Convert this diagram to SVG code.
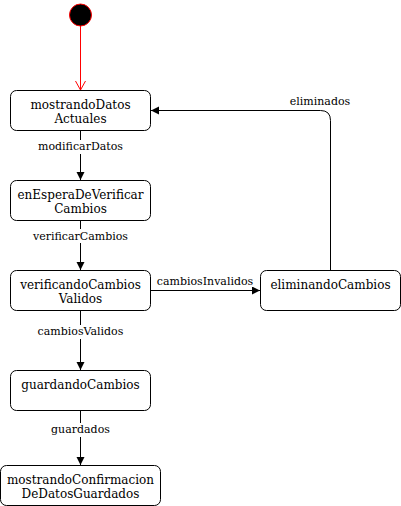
<svg xmlns="http://www.w3.org/2000/svg" width="401" height="506" viewBox="0 0 401 506">
<style>
.n{fill:#fff;stroke:#000;stroke-width:1}
.t{font-family:"DejaVu Serif",serif;font-size:12px;text-anchor:middle;fill:#000}
.l{font-family:"DejaVu Serif",serif;font-size:11px;text-anchor:middle;fill:#000}
.e{fill:none;stroke:#000;stroke-width:1}
.bg{fill:#fff}
</style>
<defs>
<marker id="a" markerWidth="10" markerHeight="10" refX="8" refY="4" orient="auto" markerUnits="userSpaceOnUse"><path d="M0,0 L8,4 L0,8 Z" fill="#000"/></marker>
<marker id="o" markerWidth="12" markerHeight="12" refX="9" refY="5" orient="auto" markerUnits="userSpaceOnUse"><path d="M0,0 L9,5 L0,10" fill="none" stroke="#f00"/></marker>
</defs>
<g id="connectors">
<line x1="80.5" y1="26" x2="80.5" y2="90" stroke="#f00" marker-end="url(#o)"/>
<line class="e" x1="80.5" y1="130.5" x2="80.5" y2="180" marker-end="url(#a)"/>
<rect class="bg" x="36" y="140" width="89" height="14"/>
<text class="l" x="80.5" y="150">modificarDatos</text>
<line class="e" x1="80.5" y1="220.5" x2="80.5" y2="270" marker-end="url(#a)"/>
<rect class="bg" x="31" y="229" width="99" height="14"/>
<text class="l" x="80.5" y="240">verificarCambios</text>
<line class="e" x1="80.5" y1="310.5" x2="80.5" y2="370" marker-end="url(#a)"/>
<rect class="bg" x="35" y="325" width="91" height="14"/>
<text class="l" x="80.5" y="335">cambiosValidos</text>
<line class="e" x1="80.5" y1="410.5" x2="80.5" y2="465" marker-end="url(#a)"/>
<rect class="bg" x="49" y="423" width="63" height="14"/>
<text class="l" x="80.5" y="433">guardados</text>
<line class="e" x1="150.5" y1="290.5" x2="260" y2="290.5" marker-end="url(#a)"/>
<text class="l" x="205" y="285">cambiosInvalidos</text>
<path class="e" d="M330.5,270 V120.5 Q330.5,110.5 320.5,110.5 H151" marker-end="url(#a)"/>
<text class="l" x="320" y="105">eliminados</text>
</g>
<g id="start"><circle cx="80.5" cy="15" r="11" fill="#000" stroke="#f00"/></g>
<g id="mostrandoDatosActuales"><rect class="n" x="10.5" y="90.5" width="140" height="40" rx="6"/><text class="t" x="80.5" y="109">mostrandoDatos</text><text class="t" x="80.5" y="123">Actuales</text></g>
<g id="enEsperaDeVerificarCambios"><rect class="n" x="10.5" y="180.5" width="140" height="40" rx="6"/><text class="t" x="80.5" y="199">enEsperaDeVerificar</text><text class="t" x="80.5" y="213">Cambios</text></g>
<g id="verificandoCambiosValidos"><rect class="n" x="10.5" y="270.5" width="140" height="40" rx="6"/><text class="t" x="80.5" y="289">verificandoCambios</text><text class="t" x="80.5" y="303">Validos</text></g>
<g id="eliminandoCambios"><rect class="n" x="260.5" y="270.5" width="140" height="40" rx="6"/><text class="t" x="330.5" y="289">eliminandoCambios</text></g>
<g id="guardandoCambios"><rect class="n" x="10.5" y="370.5" width="140" height="40" rx="6"/><text class="t" x="80.5" y="389">guardandoCambios</text></g>
<g id="mostrandoConfirmacionDeDatosGuardados"><rect class="n" x="0.5" y="465.5" width="160" height="40" rx="6"/><text class="t" x="80.5" y="484">mostrandoConfirmacion</text><text class="t" x="80.5" y="498">DeDatosGuardados</text></g>
</svg>
